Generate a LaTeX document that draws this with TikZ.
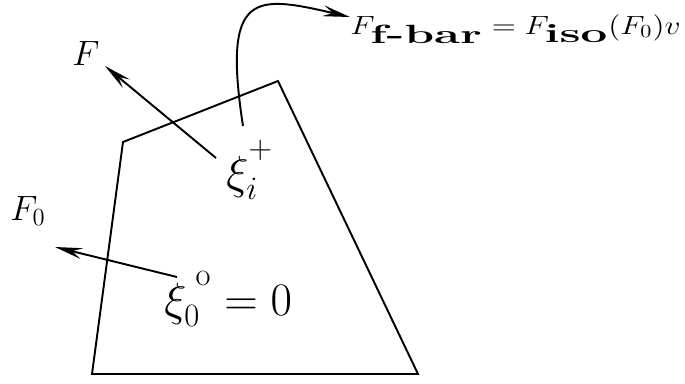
\documentclass[tikz,border=0pt]{standalone}
\usepackage{fix-cm}
\usepackage{amsmath}
\usepackage{graphicx}
\usetikzlibrary{arrows.meta}
\newcommand{\stretchx}[2]{\scalebox{#1}[1]{#2}}
\newcommand{\upsup}[1]{\raisebox{7pt}{$\scriptstyle #1$}}
\tikzset{
  % Cell outline
  cell/.style={line width=1.1pt, line join=miter},
  % Force arrows
  forcearr/.style={-{Stealth[length=5.5mm, width=2.2mm, inset=2mm]}, line width=1.1pt},
  % Labels
  forcelab/.style={inner sep=0pt, anchor=base west, font=\fontsize{20}{22}\selectfont},
  pointlab/.style={inner sep=0pt, anchor=base west, font=\fontsize{26.5}{30}\selectfont},
  eqlab/.style={inner sep=0pt, anchor=base west, font=\fontsize{15}{18}\selectfont}
}
\begin{document}
\begin{tikzpicture}[x=0.02cm, y=-0.02cm]
\useasboundingbox (0,0) rectangle (685,383);

% Cell
\draw[cell] (123,142) -- (278,81) -- (418,374) -- (92,374) -- cycle;

% Points
\node[pointlab] (xii) at (226,188) {$\xi_i^{\upsup{+}}$};
\node[pointlab] (xio) at (164,315) {$\xi_0^{\;\upsup{\mathrm{o}}}=0$};

% Labels
\node[forcelab] (f) at (72,65) {$F$};
\node[forcelab] (fo) at (10,220) {$F_0$};
\node[eqlab] (eq) at (350,34)
  {\stretchx{1.2}{$F_{\stretchx{1.5}{$\textstyle\textbf{f-bar}$}} = F_{\stretchx{1.5}{$\textstyle\textbf{iso}$}}(F_0)v$}};

% Arrow ends
\coordinate (xiistart) at (216,158);
\coordinate (xiitop) at (243,126);
\coordinate (xiostart) at (177,277);
\coordinate (ftip) at (105,66);
\coordinate (fotip) at (55,247);
\coordinate (eqtip) at (350,17);

% Arrows
\draw[forcearr] (xiistart) -- (ftip);
\draw[forcearr] (xiostart) -- (fotip);
\draw[forcearr] (xiitop) .. controls (222,-10) and (255,-5) .. (eqtip);

\end{tikzpicture}
\end{document}
